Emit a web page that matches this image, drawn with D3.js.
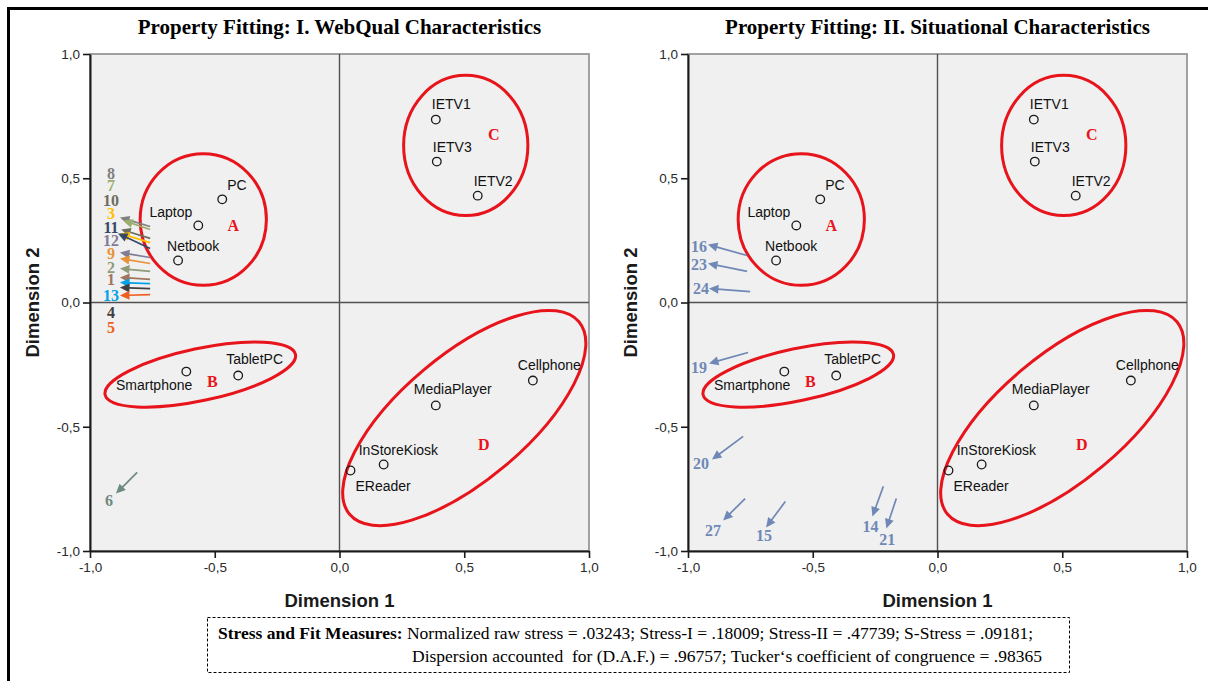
<!DOCTYPE html>
<html>
<head>
<meta charset="utf-8">
<script src="https://cdn.jsdelivr.net/npm/d3@7"></script>
<style>
body { margin: 0; background: #fff; }
svg { display: block; }
</style>
</head>
<body>
<script>
// stimulus configuration (same in both panels)
var stimuli = ["PC", "Laptop", "Netbook", "IETV1", "IETV3", "IETV2",
               "Smartphone", "TabletPC", "Cellphone", "MediaPlayer", "InStoreKiosk", "EReader"];
var dim1 = [-0.47, -0.566, -0.647, 0.386, 0.39, 0.554, -0.614, -0.406, 0.775, 0.386, 0.177, 0.044];
var dim2 = [0.415, 0.31, 0.169, 0.736, 0.567, 0.43, -0.278, -0.294, -0.314, -0.414, -0.652, -0.676];

// clusters drawn by hand round the stimuli
var clusterNames = ["A", "B", "C", "D"];
var clusterLabelX = [-0.426, -0.51, 0.618, 0.578];
var clusterLabelY = [0.31, -0.318, 0.676, -0.571];
var ellipseCx = [-0.546, -0.558, 0.506, 0.5];
var ellipseCy = [0.334, -0.29, 0.632, -0.465];
var ellipseRx = [0.253, 0.39, 0.249, 0.60];
var ellipseRy = [0.265, 0.105, 0.282, 0.253];
var ellipseRot = [0, -12, 0, -40];

// panel I: WebQual property vectors
var webqualIds = ["8", "7", "10", "3", "11", "12", "9", "2", "1", "13", "4", "5", "6"];
var webqualTailX = [-0.759, -0.759, -0.759, -0.759, -0.759, -0.759, -0.759, -0.759, -0.759, -0.759, -0.759, -0.759, -0.811];
var webqualTailY = [0.306, 0.294, 0.258, 0.241, 0.217, 0.181, 0.157, 0.125, 0.093, 0.076, 0.056, 0.032, -0.684];
var webqualHeadX = [-0.880, -0.867, -0.875, -0.880, -0.888, -0.880, -0.880, -0.880, -0.880, -0.880, -0.880, -0.880, -0.896];
var webqualHeadY = [0.342, 0.330, 0.294, 0.278, 0.278, 0.201, 0.177, 0.137, 0.101, 0.080, 0.060, 0.028, -0.769];
var webqualLabelX = [-0.916, -0.916, -0.916, -0.916, -0.916, -0.916, -0.916, -0.916, -0.916, -0.916, -0.916, -0.916, -0.924];
var webqualLabelY = [0.519, 0.471, 0.410, 0.358, 0.302, 0.249, 0.197, 0.141, 0.093, 0.028, -0.040, -0.101, -0.797];
var webqualColors = ["#808080", "#9aae6e", "#6d6d5d", "#ffc000", "#374866", "#827c96", "#e8923a",
                     "#8e9a78", "#a07560", "#00a2e8", "#404040", "#ee6020", "#6f8a82"];

// panel II: situational property vectors
var situIds = ["16", "23", "24", "19", "20", "27", "15", "14", "21"];
var situTailX = [-0.763, -0.763, -0.751, -0.759, -0.779, -0.771, -0.610, -0.217, -0.165];
var situTailY = [0.189, 0.125, 0.044, -0.201, -0.539, -0.789, -0.801, -0.740, -0.789];
var situHeadX = [-0.920, -0.920, -0.916, -0.916, -0.904, -0.859, -0.687, -0.261, -0.205];
var situHeadY = [0.233, 0.157, 0.056, -0.245, -0.632, -0.877, -0.905, -0.861, -0.909];
var situLabelX = [-0.956, -0.956, -0.948, -0.956, -0.948, -0.900, -0.695, -0.269, -0.201];
var situLabelY = [0.225, 0.153, 0.056, -0.262, -0.648, -0.918, -0.938, -0.901, -0.954];
var situColor = "#6f88b6";

var ticks = [-1, -0.5, 0, 0.5, 1];

// where each stimulus name sits relative to its point (px)
var labelPos = {
    "PC": [5, -9, "start"],
    "Laptop": [-6, -8, "end"],
    "Netbook": [-11, -10, "start"],
    "IETV1": [-4, -11, "start"],
    "IETV3": [-4, -10, "start"],
    "IETV2": [-4, -10, "start"],
    "Smartphone": [6, 18, "end"],
    "TabletPC": [-12, -12, "start"],
    "Cellphone": [-15, -11, "start"],
    "MediaPlayer": [-22, -11, "start"],
    "InStoreKiosk": [-25, -10, "start"],
    "EReader": [5, 21, "start"]
};

var W = 1208, H = 681;
var red = "#e8141c";
var sans = "Arial, 'Liberation Sans', sans-serif";
var serif = "'Times New Roman', 'Liberation Serif', serif";

var fmt = d3.formatLocale({decimal: ",", thousands: ".", grouping: [3], currency: ["", ""], minus: "-"}).format(".1f");

var svg = d3.select("body").append("svg")
    .attr("width", W)
    .attr("height", H);

svg.append("rect").attr("width", W).attr("height", H).attr("fill", "#fff");

// outer frame (cut at right and bottom)
svg.append("path")
    .attr("d", "M8.5," + H + "V8.5H" + W)
    .attr("fill", "none")
    .attr("stroke", "#000")
    .attr("stroke-width", 3);

function drawArrow(g, x1, y1, x2, y2, color) {
    var dx = x2 - x1, dy = y2 - y1;
    var len = Math.sqrt(dx * dx + dy * dy);
    var ux = dx / len, uy = dy / len;
    var headLen = 9.5, headW = 4.5;
    var bx = x2 - ux * headLen, by = y2 - uy * headLen;
    g.append("line")
        .attr("x1", x1).attr("y1", y1)
        .attr("x2", bx + ux).attr("y2", by + uy)
        .attr("stroke", color)
        .attr("stroke-width", 1.7);
    g.append("path")
        .attr("d", "M" + x2 + "," + y2 +
                   "L" + (bx - uy * headW) + "," + (by + ux * headW) +
                   "L" + (bx + uy * headW) + "," + (by - ux * headW) + "Z")
        .attr("fill", color);
}

function drawPanel(left, title, ids, tailX, tailY, headX, headY, labX, labY, colors) {
    var x = d3.scaleLinear().domain([-1, 1]).range([left, left + 499]);
    var y = d3.scaleLinear().domain([-1, 1]).range([551, 54]);
    var g = svg.append("g");

    g.append("text")
        .attr("x", x(0))
        .attr("y", 34)
        .attr("text-anchor", "middle")
        .attr("font-family", serif)
        .attr("font-weight", "bold")
        .attr("font-size", 21)
        .text(title);

    g.append("rect")
        .attr("x", x(-1)).attr("y", y(1))
        .attr("width", x(1) - x(-1)).attr("height", y(-1) - y(1))
        .attr("fill", "#f0f0f0")
        .attr("stroke", "#8c8c8c")
        .attr("stroke-width", 1.6);

    // reference lines at zero
    g.append("line")
        .attr("x1", x(0)).attr("x2", x(0))
        .attr("y1", y(1)).attr("y2", y(-1))
        .attr("stroke", "#505050").attr("stroke-width", 1.4);
    g.append("line")
        .attr("x1", x(-1)).attr("x2", x(1))
        .attr("y1", y(0)).attr("y2", y(0))
        .attr("stroke", "#505050").attr("stroke-width", 1.4);

    var yAxis = g.append("g")
        .attr("transform", translate(x(-1), 0))
        .call(d3.axisLeft(y).tickValues(ticks).tickFormat(fmt).tickSize(7).tickSizeOuter(0).tickPadding(3));
    var xAxis = g.append("g")
        .attr("transform", translate(0, y(-1)))
        .call(d3.axisBottom(x).tickValues(ticks).tickFormat(fmt).tickSize(7).tickSizeOuter(0).tickPadding(4));
    [yAxis, xAxis].forEach(function(a) {
        a.select(".domain").attr("stroke", "#1a1a1a").attr("stroke-width", 2);
        a.selectAll(".tick line").attr("stroke", "#1a1a1a").attr("stroke-width", 1.6);
        a.selectAll(".tick text")
            .attr("font-family", sans)
            .attr("font-size", 13.5)
            .attr("fill", "#2a2a2a");
    });

    g.append("text")
        .attr("x", x(0))
        .attr("y", 607)
        .attr("text-anchor", "middle")
        .attr("font-family", sans)
        .attr("font-weight", "bold")
        .attr("font-size", 18.5)
        .attr("fill", "#1a1a1a")
        .text("Dimension 1");
    g.append("text")
        .attr("transform", translate(left - 51, y(0)) + " rotate(-90)")
        .attr("text-anchor", "middle")
        .attr("font-family", sans)
        .attr("font-weight", "bold")
        .attr("font-size", 18.5)
        .attr("fill", "#1a1a1a")
        .text("Dimension 2");

    // cluster ellipses
    clusterNames.forEach(function(name, i) {
        var cx = x(ellipseCx[i]), cy = y(ellipseCy[i]);
        g.append("ellipse")
            .attr("cx", cx).attr("cy", cy)
            .attr("rx", x(ellipseRx[i]) - x(0))
            .attr("ry", y(0) - y(ellipseRy[i]))
            .attr("transform", "rotate(" + ellipseRot[i] + "," + cx + "," + cy + ")")
            .attr("fill", "none")
            .attr("stroke", red)
            .attr("stroke-width", 3);
        g.append("text")
            .attr("x", x(clusterLabelX[i]))
            .attr("y", y(clusterLabelY[i]))
            .attr("dy", "0.35em")
            .attr("text-anchor", "middle")
            .attr("font-family", serif)
            .attr("font-weight", "bold")
            .attr("font-size", 16)
            .attr("fill", red)
            .text(name);
    });

    // stimuli
    stimuli.forEach(function(name, i) {
        var px = x(dim1[i]), py = y(dim2[i]);
        var lp = labelPos[name];
        g.append("circle")
            .attr("cx", px).attr("cy", py).attr("r", 4.3)
            .attr("fill", "none")
            .attr("stroke", "#1a1a1a")
            .attr("stroke-width", 1.3);
        g.append("text")
            .attr("x", px + lp[0])
            .attr("y", py + lp[1])
            .attr("text-anchor", lp[2])
            .attr("font-family", sans)
            .attr("font-size", 14)
            .attr("fill", "#111")
            .text(name);
    });

    // property vectors
    ids.forEach(function(id, i) {
        var c = typeof colors === "string" ? colors : colors[i];
        drawArrow(g, x(tailX[i]), y(tailY[i]), x(headX[i]), y(headY[i]), c);
        g.append("text")
            .attr("x", x(labX[i]))
            .attr("y", y(labY[i]))
            .attr("dy", "0.35em")
            .attr("text-anchor", "middle")
            .attr("font-family", serif)
            .attr("font-weight", "bold")
            .attr("font-size", 16)
            .attr("fill", c)
            .text(id);
    });
}

function translate(x, y) {
    return "translate(" + x + "," + y + ")";
}

drawPanel(90, "Property Fitting: I. WebQual Characteristics",
          webqualIds, webqualTailX, webqualTailY, webqualHeadX, webqualHeadY,
          webqualLabelX, webqualLabelY, webqualColors);
drawPanel(688, "Property Fitting: II. Situational Characteristics",
          situIds, situTailX, situTailY, situHeadX, situHeadY,
          situLabelX, situLabelY, situColor);

// stress box
svg.append("rect")
    .attr("x", 207.5).attr("y", 617.5)
    .attr("width", 862).attr("height", 55)
    .attr("fill", "none")
    .attr("stroke", "#000")
    .attr("stroke-width", 1)
    .attr("stroke-dasharray", "3,2");

var line1 = svg.append("text")
    .attr("x", 218).attr("y", 639)
    .attr("font-family", serif)
    .attr("font-size", 17.5);
line1.append("tspan").attr("font-weight", "bold").text("Stress and Fit Measures:");
line1.append("tspan").text(" Normalized raw stress = .03243; Stress-I = .18009; Stress-II = .47739; S-Stress = .09181;");

svg.append("text")
    .attr("x", 412).attr("y", 662)
    .attr("font-family", serif)
    .attr("font-size", 17.5)
    .style("white-space", "pre")
    .text("Dispersion accounted  for (D.A.F.) = .96757; Tucker\u2018s coefficient of congruence = .98365");
</script>
</body>
</html>
